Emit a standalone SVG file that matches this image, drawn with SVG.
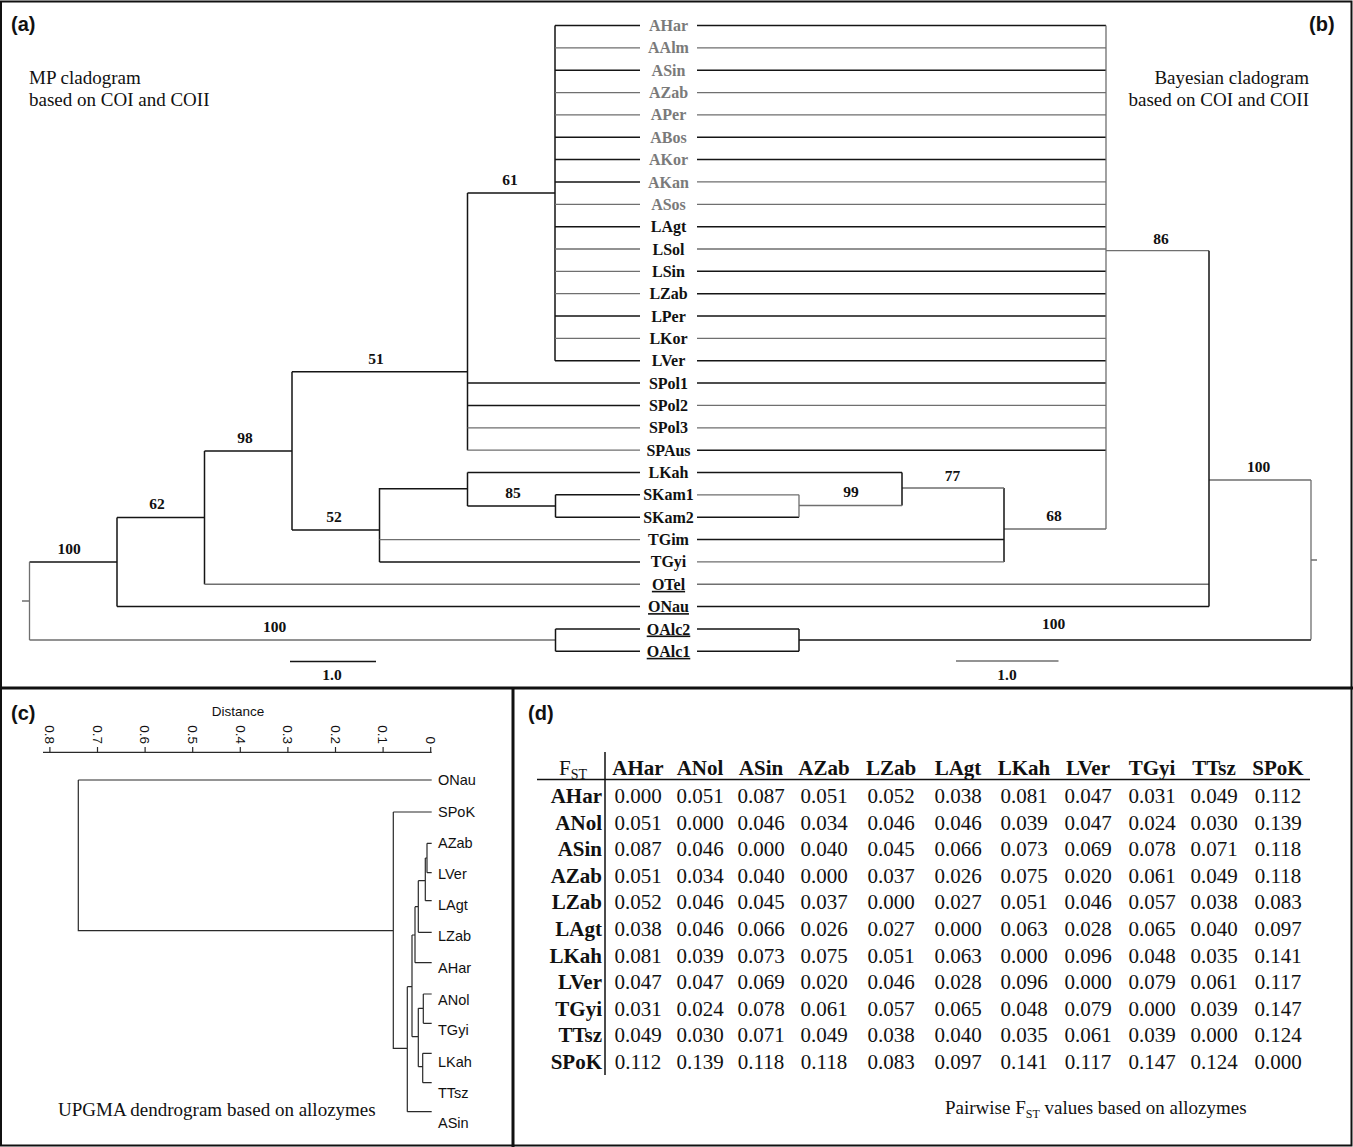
<svg xmlns="http://www.w3.org/2000/svg" width="1353" height="1147" viewBox="0 0 1353 1147">
<style>
.k{stroke:#151515;stroke-width:1.5;fill:none}
.g{stroke:#6f6f6f;stroke-width:1.3;fill:none}
.c{stroke:#2a2a2a;stroke-width:1.2;fill:none}
.tx{font-family:"Liberation Serif","Times New Roman",serif;font-weight:bold;font-size:16px;text-anchor:middle;fill:#111}
.tg{fill:#7a7a7a}
.u{text-decoration:underline}
.bs{font-family:"Liberation Serif","Times New Roman",serif;font-weight:bold;font-size:15.5px;text-anchor:middle;fill:#111}
.pl{font-family:"Liberation Sans",Arial,sans-serif;font-weight:bold;font-size:20px;fill:#111}
.cap{font-family:"Liberation Serif","Times New Roman",serif;font-size:19px;fill:#111}
.cl{font-family:"Liberation Sans",Arial,sans-serif;font-size:14.5px;fill:#111}
.dl{font-family:"Liberation Sans",Arial,sans-serif;font-size:13.5px;fill:#111;text-anchor:middle}
.ax{font-family:"Liberation Sans",Arial,sans-serif;font-size:13.5px;fill:#111;text-anchor:end}
.th{font-family:"Liberation Serif","Times New Roman",serif;font-weight:bold;font-size:21px;text-anchor:middle;fill:#111}
.rh{font-family:"Liberation Serif","Times New Roman",serif;font-weight:bold;font-size:21px;text-anchor:end;fill:#111}
.v{font-family:"Liberation Serif","Times New Roman",serif;font-size:21px;text-anchor:middle;fill:#111}
</style>

<g id="frame" fill="none" stroke="#111">
<rect x="1" y="1.5" width="1350.5" height="1144" stroke-width="2"/>
<line x1="0" y1="688" x2="1353" y2="688" stroke-width="3"/>
<line x1="513" y1="688" x2="513" y2="1147" stroke-width="3"/>
</g>

<g id="panel-titles">
<text class="pl" x="11" y="31">(a)</text>
<text class="pl" x="1309" y="31">(b)</text>
<text class="pl" x="11" y="720">(c)</text>
<text class="pl" x="528" y="720">(d)</text>
<text class="cap" x="29" y="84">MP cladogram</text>
<text class="cap" x="29" y="106">based on COI and COII</text>
<text class="cap" x="1309" y="84" text-anchor="end">Bayesian cladogram</text>
<text class="cap" x="1309" y="106" text-anchor="end">based on COI and COII</text>
</g>

<g id="taxa-ab">
<text id="t-AHar" class="tx tg" x="668.5" y="31">AHar</text>
<text id="t-AAlm" class="tx tg" x="668.5" y="53.4">AAlm</text>
<text id="t-ASin" class="tx tg" x="668.5" y="75.7">ASin</text>
<text id="t-AZab" class="tx tg" x="668.5" y="98.1">AZab</text>
<text id="t-APer" class="tx tg" x="668.5" y="120.4">APer</text>
<text id="t-ABos" class="tx tg" x="668.5" y="142.8">ABos</text>
<text id="t-AKor" class="tx tg" x="668.5" y="165.1">AKor</text>
<text id="t-AKan" class="tx tg" x="668.5" y="187.5">AKan</text>
<text id="t-ASos" class="tx tg" x="668.5" y="209.8">ASos</text>
<text id="t-LAgt" class="tx" x="668.5" y="232.2">LAgt</text>
<text id="t-LSol" class="tx" x="668.5" y="254.5">LSol</text>
<text id="t-LSin" class="tx" x="668.5" y="276.9">LSin</text>
<text id="t-LZab" class="tx" x="668.5" y="299.2">LZab</text>
<text id="t-LPer" class="tx" x="668.5" y="321.6">LPer</text>
<text id="t-LKor" class="tx" x="668.5" y="343.9">LKor</text>
<text id="t-LVer" class="tx" x="668.5" y="366.3">LVer</text>
<text id="t-SPol1" class="tx" x="668.5" y="388.6">SPol1</text>
<text id="t-SPol2" class="tx" x="668.5" y="411">SPol2</text>
<text id="t-SPol3" class="tx" x="668.5" y="433.3">SPol3</text>
<text id="t-SPAus" class="tx" x="668.5" y="455.7">SPAus</text>
<text id="t-LKah" class="tx" x="668.5" y="478">LKah</text>
<text id="t-SKam1" class="tx" x="668.5" y="500.4">SKam1</text>
<text id="t-SKam2" class="tx" x="668.5" y="522.7">SKam2</text>
<text id="t-TGim" class="tx" x="668.5" y="545.1">TGim</text>
<text id="t-TGyi" class="tx" x="668.5" y="567.4">TGyi</text>
<text id="t-OTel" class="tx u" x="668.5" y="589.8">OTel</text>
<text id="t-ONau" class="tx u" x="668.5" y="612.1">ONau</text>
<text id="t-OAlc2" class="tx u" x="668.5" y="634.5">OAlc2</text>
<text id="t-OAlc1" class="tx u" x="668.5" y="656.8">OAlc1</text>
</g>

<g id="connectors-a">
<path class="k" d="M555,25.5H640M555,70.2H640M555,137.25H640M555,159.6H640M555,181.95H640M555,226.65H640M555,316.05H640M555,360.75H640M555,25.5V360.75"/>
<path class="g" d="M555,47.85H640M555,92.55H640M555,114.9H640M555,204.3H640M555,249H640M555,271.35H640M555,293.7H640M555,338.4H640"/>
<path class="k" d="M467.5,193H555M467.5,193V450.15M467.5,383.1H640M467.5,405.45H640M292,371.7H467.5"/>
<path class="g" d="M467.5,427.8H640M467.5,450.15H640"/>
<path class="k" d="M292,371.7V530M292,530H379.5M379.5,488V561.9M379.5,561.9H640M379.5,488.7H467.5M467.5,472.5V506M467.5,472.5H640M467.5,506H555.5M555.5,494.85V517.2M555.5,494.85H640M555.5,517.2H640"/>
<path class="g" d="M379.5,539.55H640"/>
<path class="k" d="M204.5,451H292M204.5,451V584.25M117,517.5H204.5M117,517.5V606.6M117,606.6H640M29.5,562H117"/>
<path class="g" d="M204.5,584.25H640M29.5,562V640M29.5,640H555.5M22,601H29.5"/>
<path class="k" d="M555.5,628.95V651.3M555.5,628.95H640M555.5,651.3H640"/>
<path class="k" d="M290,661.5H376"/>
</g>
<g id="support-a">
<text class="bs" x="69" y="554">100</text>
<text class="bs" x="157" y="509">62</text>
<text class="bs" x="245" y="443">98</text>
<text class="bs" x="376" y="364">51</text>
<text class="bs" x="510" y="185">61</text>
<text class="bs" x="334" y="522">52</text>
<text class="bs" x="513" y="498">85</text>
<text class="bs" x="274.5" y="632">100</text>
<text class="bs" x="332" y="680">1.0</text>
</g>

<g id="connectors-b">
<path class="k" d="M697,25.5H1106M697,70.2H1106M697,137.25H1106M697,159.6H1106M697,226.65H1106M697,271.35H1106M697,293.7H1106M697,316.05H1106M697,360.75H1106M697,383.1H1106M697,450.15H1106"/>
<path class="g" d="M697,47.85H1106M697,92.55H1106M697,114.9H1106M697,181.95H1106M697,204.3H1106M697,249H1106M697,338.4H1106M697,405.45H1106M697,427.8H1106M1106,25.5V529M1004,529H1106"/>
<path class="k" d="M1004,488V561.9M697,539.55H1004"/>
<path class="g" d="M697,561.9H1004M902,488H1004"/>
<path class="k" d="M902,472.5V505.5M697,472.5H902M697,517.2H799"/>
<path class="g" d="M799,505.5H902M799,494.85V517.2M697,494.85H799"/>
<path class="g" d="M1106,250.7H1209M697,584.25H1209M1209,480H1311M1311,480V639.5M1311,560H1317"/>
<path class="k" d="M1209,250.7V606.6M697,606.6H1209"/>
<path class="k" d="M799,628.95V651.3M697,628.95H799M697,651.3H799M799,640H1311"/>
<path class="g" d="M956,661H1058.5"/>
</g>
<g id="support-b">
<text class="bs" x="1054" y="521">68</text>
<text class="bs" x="952.5" y="480.5">77</text>
<text class="bs" x="851" y="496.5">99</text>
<text class="bs" x="1161" y="243.5">86</text>
<text class="bs" x="1258.5" y="472">100</text>
<text class="bs" x="1053.5" y="629">100</text>
<text class="bs" x="1007" y="680">1.0</text>
</g>

<g id="axis-c">
<text class="dl" x="238" y="716">Distance</text>
<path class="c" d="M43,752.3H431.7M430.7,747V752.3M383.1,747V752.3M335.5,747V752.3M287.9,747V752.3M240.3,747V752.3M192.7,747V752.3M145.1,747V752.3M97.5,747V752.3M49.9,747V752.3"/>
<text class="ax" transform="translate(430.7,744) rotate(90)" dy="0.35em">0</text>
<text class="ax" transform="translate(383.1,744) rotate(90)" dy="0.35em">0.1</text>
<text class="ax" transform="translate(335.5,744) rotate(90)" dy="0.35em">0.2</text>
<text class="ax" transform="translate(287.9,744) rotate(90)" dy="0.35em">0.3</text>
<text class="ax" transform="translate(240.3,744) rotate(90)" dy="0.35em">0.4</text>
<text class="ax" transform="translate(192.7,744) rotate(90)" dy="0.35em">0.5</text>
<text class="ax" transform="translate(145.1,744) rotate(90)" dy="0.35em">0.6</text>
<text class="ax" transform="translate(97.5,744) rotate(90)" dy="0.35em">0.7</text>
<text class="ax" transform="translate(49.9,744) rotate(90)" dy="0.35em">0.8</text>
</g>

<g id="connectors-c">
<path class="c" d="M78.3,780H431.7M78.3,780V930.7H393.3M393.3,812H431.7M393.3,812V1048.3H407.3M407.3,986.7V1111.7M407.3,1111.7H431.7M407.3,986.7H412M412,935V1036.7"/>
<path class="c" d="M412,935H415M415,906.7V962.7M415,962.7H431.7M415,906.7H418.3M418.3,880.7V932.3M418.3,932.3H431.7M418.3,880.7H425.3M425.3,858V900.7M425.3,900.7H431.7M425.3,858H427M427,843.3V872.7M427,843.3H431.7M427,872.7H431.7"/>
<path class="c" d="M412,1036.7H418.3M418.3,1008.3V1066.7M418.3,1008.3H423.3M423.3,994V1023.3M423.3,994H431.7M423.3,1023.3H431.7M418.3,1066.7H422.7M422.7,1053.3V1082.7M422.7,1053.3H431.7M422.7,1082.7H431.7"/>
</g>
<g id="taxa-c">
<text id="c-ONau" class="cl" x="438" y="785">ONau</text>
<text id="c-SPoK" class="cl" x="438" y="817">SPoK</text>
<text id="c-AZab" class="cl" x="438" y="848">AZab</text>
<text id="c-LVer" class="cl" x="438" y="878.5">LVer</text>
<text id="c-LAgt" class="cl" x="438" y="910">LAgt</text>
<text id="c-LZab" class="cl" x="438" y="941">LZab</text>
<text id="c-AHar" class="cl" x="438" y="973">AHar</text>
<text id="c-ANol" class="cl" x="438" y="1005">ANol</text>
<text id="c-TGyi" class="cl" x="438" y="1035">TGyi</text>
<text id="c-LKah" class="cl" x="438" y="1067">LKah</text>
<text id="c-TTsz" class="cl" x="438" y="1098">TTsz</text>
<text id="c-ASin" class="cl" x="438" y="1128">ASin</text>
<text class="cap" x="58" y="1116">UPGMA dendrogram based on allozymes</text>
</g>

<g id="table-d">
<path d="M605,752V1075M537,779.5H1310" stroke="#111" stroke-width="1.5" fill="none"/>
<text class="v" x="573" y="775">F<tspan font-size="14" dy="4">ST</tspan></text>
<text class="th" x="638" y="775">AHar</text>
<text class="th" x="700" y="775">ANol</text>
<text class="th" x="761" y="775">ASin</text>
<text class="th" x="824" y="775">AZab</text>
<text class="th" x="891" y="775">LZab</text>
<text class="th" x="958" y="775">LAgt</text>
<text class="th" x="1024" y="775">LKah</text>
<text class="th" x="1088" y="775">LVer</text>
<text class="th" x="1152" y="775">TGyi</text>
<text class="th" x="1214" y="775">TTsz</text>
<text class="th" x="1278" y="775">SPoK</text>

<g id="row-AHar"><text class="rh" x="602" y="803">AHar</text>
<text class="v" y="803"><tspan x="638">0.000</tspan><tspan x="700">0.051</tspan><tspan x="761">0.087</tspan><tspan x="824">0.051</tspan><tspan x="891">0.052</tspan><tspan x="958">0.038</tspan><tspan x="1024">0.081</tspan><tspan x="1088">0.047</tspan><tspan x="1152">0.031</tspan><tspan x="1214">0.049</tspan><tspan x="1278">0.112</tspan></text></g>
<g id="row-ANol"><text class="rh" x="602" y="829.6">ANol</text>
<text class="v" y="829.6"><tspan x="638">0.051</tspan><tspan x="700">0.000</tspan><tspan x="761">0.046</tspan><tspan x="824">0.034</tspan><tspan x="891">0.046</tspan><tspan x="958">0.046</tspan><tspan x="1024">0.039</tspan><tspan x="1088">0.047</tspan><tspan x="1152">0.024</tspan><tspan x="1214">0.030</tspan><tspan x="1278">0.139</tspan></text></g>
<g id="row-ASin"><text class="rh" x="602" y="856.2">ASin</text>
<text class="v" y="856.2"><tspan x="638">0.087</tspan><tspan x="700">0.046</tspan><tspan x="761">0.000</tspan><tspan x="824">0.040</tspan><tspan x="891">0.045</tspan><tspan x="958">0.066</tspan><tspan x="1024">0.073</tspan><tspan x="1088">0.069</tspan><tspan x="1152">0.078</tspan><tspan x="1214">0.071</tspan><tspan x="1278">0.118</tspan></text></g>
<g id="row-AZab"><text class="rh" x="602" y="882.8">AZab</text>
<text class="v" y="882.8"><tspan x="638">0.051</tspan><tspan x="700">0.034</tspan><tspan x="761">0.040</tspan><tspan x="824">0.000</tspan><tspan x="891">0.037</tspan><tspan x="958">0.026</tspan><tspan x="1024">0.075</tspan><tspan x="1088">0.020</tspan><tspan x="1152">0.061</tspan><tspan x="1214">0.049</tspan><tspan x="1278">0.118</tspan></text></g>
<g id="row-LZab"><text class="rh" x="602" y="909.4">LZab</text>
<text class="v" y="909.4"><tspan x="638">0.052</tspan><tspan x="700">0.046</tspan><tspan x="761">0.045</tspan><tspan x="824">0.037</tspan><tspan x="891">0.000</tspan><tspan x="958">0.027</tspan><tspan x="1024">0.051</tspan><tspan x="1088">0.046</tspan><tspan x="1152">0.057</tspan><tspan x="1214">0.038</tspan><tspan x="1278">0.083</tspan></text></g>
<g id="row-LAgt"><text class="rh" x="602" y="936">LAgt</text>
<text class="v" y="936"><tspan x="638">0.038</tspan><tspan x="700">0.046</tspan><tspan x="761">0.066</tspan><tspan x="824">0.026</tspan><tspan x="891">0.027</tspan><tspan x="958">0.000</tspan><tspan x="1024">0.063</tspan><tspan x="1088">0.028</tspan><tspan x="1152">0.065</tspan><tspan x="1214">0.040</tspan><tspan x="1278">0.097</tspan></text></g>
<g id="row-LKah"><text class="rh" x="602" y="962.6">LKah</text>
<text class="v" y="962.6"><tspan x="638">0.081</tspan><tspan x="700">0.039</tspan><tspan x="761">0.073</tspan><tspan x="824">0.075</tspan><tspan x="891">0.051</tspan><tspan x="958">0.063</tspan><tspan x="1024">0.000</tspan><tspan x="1088">0.096</tspan><tspan x="1152">0.048</tspan><tspan x="1214">0.035</tspan><tspan x="1278">0.141</tspan></text></g>
<g id="row-LVer"><text class="rh" x="602" y="989.2">LVer</text>
<text class="v" y="989.2"><tspan x="638">0.047</tspan><tspan x="700">0.047</tspan><tspan x="761">0.069</tspan><tspan x="824">0.020</tspan><tspan x="891">0.046</tspan><tspan x="958">0.028</tspan><tspan x="1024">0.096</tspan><tspan x="1088">0.000</tspan><tspan x="1152">0.079</tspan><tspan x="1214">0.061</tspan><tspan x="1278">0.117</tspan></text></g>
<g id="row-TGyi"><text class="rh" x="602" y="1015.8">TGyi</text>
<text class="v" y="1015.8"><tspan x="638">0.031</tspan><tspan x="700">0.024</tspan><tspan x="761">0.078</tspan><tspan x="824">0.061</tspan><tspan x="891">0.057</tspan><tspan x="958">0.065</tspan><tspan x="1024">0.048</tspan><tspan x="1088">0.079</tspan><tspan x="1152">0.000</tspan><tspan x="1214">0.039</tspan><tspan x="1278">0.147</tspan></text></g>
<g id="row-TTsz"><text class="rh" x="602" y="1042.4">TTsz</text>
<text class="v" y="1042.4"><tspan x="638">0.049</tspan><tspan x="700">0.030</tspan><tspan x="761">0.071</tspan><tspan x="824">0.049</tspan><tspan x="891">0.038</tspan><tspan x="958">0.040</tspan><tspan x="1024">0.035</tspan><tspan x="1088">0.061</tspan><tspan x="1152">0.039</tspan><tspan x="1214">0.000</tspan><tspan x="1278">0.124</tspan></text></g>
<g id="row-SPoK"><text class="rh" x="602" y="1069">SPoK</text>
<text class="v" y="1069"><tspan x="638">0.112</tspan><tspan x="700">0.139</tspan><tspan x="761">0.118</tspan><tspan x="824">0.118</tspan><tspan x="891">0.083</tspan><tspan x="958">0.097</tspan><tspan x="1024">0.141</tspan><tspan x="1088">0.117</tspan><tspan x="1152">0.147</tspan><tspan x="1214">0.124</tspan><tspan x="1278">0.000</tspan></text></g>

<text class="cap" x="945" y="1114" font-size="18.5">Pairwise F<tspan font-size="12" dy="4">ST</tspan><tspan dy="-4"> values based on allozymes</tspan></text>
</g>
</svg>
